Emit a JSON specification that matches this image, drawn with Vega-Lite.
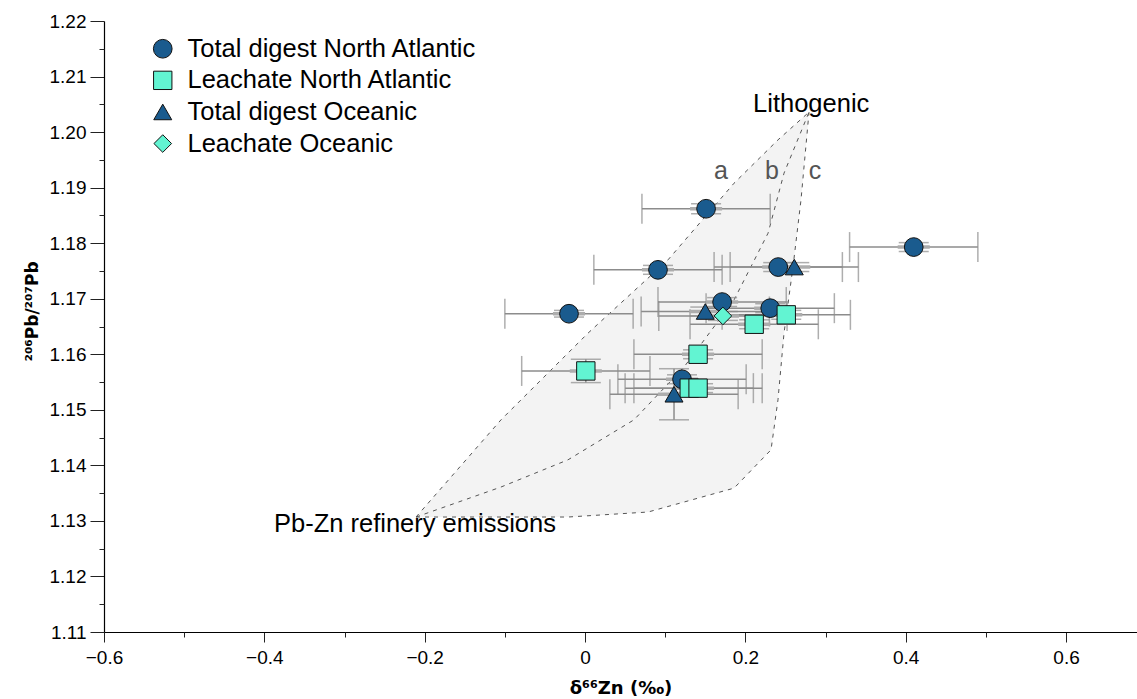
{
  "$schema": "https://vega.github.io/schema/vega-lite/v6.json",
  "width": 1033,
  "height": 611,
  "padding": {"left": 104, "top": 21, "right": 0, "bottom": 67},
  "autosize": {"type": "none"},
  "background": "white",
  "config": {
    "view": {"stroke": null},
    "font": "Liberation Sans",
    "axis": {"labelFont": "Liberation Sans", "titleFont": "DejaVu Sans", "domainColor": "#000", "tickColor": "#222", "grid": false, "labelColor": "#000", "titleColor": "#000"}
  },
  "resolve": {"axis": {"x": "independent", "y": "independent"}},
  "datasets": {
    "envelope": [
      {"xe": -0.2108, "ya": 1.1307, "yc": 1.1307},
      {"xe": -0.1048, "ya": 1.1482, "yc": 1.1307},
      {"xe": -0.0212, "ya": 1.1602, "yc": 1.1307},
      {"xe": 0.0037, "ya": 1.1638, "yc": 1.1309},
      {"xe": 0.0786, "ya": 1.1737, "yc": 1.1316},
      {"xe": 0.1035, "ya": 1.1770, "yc": 1.1326},
      {"xe": 0.1859, "ya": 1.1908, "yc": 1.1359},
      {"xe": 0.232, "ya": 1.1974, "yc": 1.1428},
      {"xe": 0.2407, "ya": 1.1986, "yc": 1.1518},
      {"xe": 0.2482, "ya": 1.1996, "yc": 1.1638},
      {"xe": 0.2594, "ya": 1.2010, "yc": 1.1757},
      {"xe": 0.2694, "ya": 1.2023, "yc": 1.1878},
      {"xe": 0.2794, "ya": 1.2036, "yc": 1.2036}
    ],
    "curves": [
      {"curve": "a", "x": -0.2108, "y": 1.1307},
      {"curve": "a", "x": -0.1048, "y": 1.1482},
      {"curve": "a", "x": 0.0037, "y": 1.1638},
      {"curve": "a", "x": 0.1035, "y": 1.1770},
      {"curve": "a", "x": 0.1859, "y": 1.1908},
      {"curve": "a", "x": 0.2407, "y": 1.1986},
      {"curve": "a", "x": 0.2794, "y": 1.2036},
      {"curve": "b", "x": -0.2108, "y": 1.1307},
      {"curve": "b", "x": -0.1048, "y": 1.1361},
      {"curve": "b", "x": -0.0212, "y": 1.1410},
      {"curve": "b", "x": 0.0611, "y": 1.1482},
      {"curve": "b", "x": 0.1235, "y": 1.1577},
      {"curve": "b", "x": 0.1859, "y": 1.1698},
      {"curve": "b", "x": 0.2283, "y": 1.1818},
      {"curve": "b", "x": 0.2482, "y": 1.1926},
      {"curve": "b", "x": 0.2794, "y": 1.2036},
      {"curve": "c", "x": -0.2108, "y": 1.1307},
      {"curve": "c", "x": -0.0212, "y": 1.1307},
      {"curve": "c", "x": 0.0786, "y": 1.1316},
      {"curve": "c", "x": 0.1859, "y": 1.1359},
      {"curve": "c", "x": 0.232, "y": 1.1428},
      {"curve": "c", "x": 0.2407, "y": 1.1518},
      {"curve": "c", "x": 0.2482, "y": 1.1638},
      {"curve": "c", "x": 0.2594, "y": 1.1757},
      {"curve": "c", "x": 0.2694, "y": 1.1878},
      {"curve": "c", "x": 0.2794, "y": 1.2036}
    ],
    "names": [
      {"label": "Lithogenic", "x": 0.2096, "y": 1.2036},
      {"label": "Pb-Zn refinery emissions", "x": -0.388, "y": 1.128}
    ],
    "letters": [
      {"label": "a", "x": 0.1696, "y": 1.1915},
      {"label": "b", "x": 0.2333, "y": 1.1915},
      {"label": "c", "x": 0.287, "y": 1.1915}
    ],
    "pts": [
      {"type": "Total digest North Atlantic", "x": 0.151, "y": 1.1862, "xlo": 0.071, "xhi": 0.231, "ylo": 1.1853, "yhi": 1.1871, "xilo": 0.131, "xihi": 0.171},
      {"type": "Total digest North Atlantic", "x": 0.091, "y": 1.1752, "xlo": 0.011, "xhi": 0.171, "ylo": 1.1744, "yhi": 1.1760, "xilo": 0.071, "xihi": 0.111},
      {"type": "Total digest North Atlantic", "x": -0.020, "y": 1.1673, "xlo": -0.100, "xhi": 0.060, "ylo": 1.1667, "yhi": 1.1679, "xilo": -0.040, "xihi": 0.000},
      {"type": "Total digest North Atlantic", "x": 0.241, "y": 1.1757, "xlo": 0.161, "xhi": 0.321, "ylo": 1.1749, "yhi": 1.1765, "xilo": 0.221, "xihi": 0.261},
      {"type": "Total digest North Atlantic", "x": 0.171, "y": 1.1694, "xlo": 0.091, "xhi": 0.251, "ylo": 1.1686, "yhi": 1.1702, "xilo": 0.151, "xihi": 0.191},
      {"type": "Total digest North Atlantic", "x": 0.231, "y": 1.1683, "xlo": 0.151, "xhi": 0.311, "ylo": 1.1675, "yhi": 1.1691, "xilo": 0.211, "xihi": 0.251},
      {"type": "Total digest North Atlantic", "x": 0.410, "y": 1.1793, "xlo": 0.330, "xhi": 0.490, "ylo": 1.1785, "yhi": 1.1801, "xilo": 0.390, "xihi": 0.430},
      {"type": "Total digest North Atlantic", "x": 0.121, "y": 1.1555, "xlo": 0.041, "xhi": 0.201, "ylo": 1.1547, "yhi": 1.1563, "xilo": 0.101, "xihi": 0.141},
      {"type": "Leachate North Atlantic", "x": 0.001, "y": 1.1570, "xlo": -0.079, "xhi": 0.081, "ylo": 1.1549, "yhi": 1.1591, "xilo": -0.019, "xihi": 0.021},
      {"type": "Leachate North Atlantic", "x": 0.141, "y": 1.1600, "xlo": 0.061, "xhi": 0.221, "ylo": 1.1592, "yhi": 1.1608, "xilo": 0.121, "xihi": 0.161},
      {"type": "Leachate North Atlantic", "x": 0.211, "y": 1.1654, "xlo": 0.131, "xhi": 0.291, "ylo": 1.1646, "yhi": 1.1662, "xilo": 0.191, "xihi": 0.231},
      {"type": "Leachate North Atlantic", "x": 0.251, "y": 1.1671, "xlo": 0.171, "xhi": 0.331, "ylo": 1.1663, "yhi": 1.1679, "xilo": 0.231, "xihi": 0.271},
      {"type": "Leachate North Atlantic", "x": 0.130, "y": 1.1539, "xlo": 0.050, "xhi": 0.210, "ylo": 1.1531, "yhi": 1.1547, "xilo": 0.110, "xihi": 0.150},
      {"type": "Leachate North Atlantic", "x": 0.141, "y": 1.1539, "xlo": 0.061, "xhi": 0.221, "ylo": 1.1531, "yhi": 1.1547, "xilo": 0.121, "xihi": 0.161},
      {"type": "Total digest Oceanic", "x": 0.261, "y": 1.1757, "xlo": 0.181, "xhi": 0.341, "ylo": 1.1749, "yhi": 1.1765, "xilo": 0.241, "xihi": 0.281},
      {"type": "Total digest Oceanic", "x": 0.150, "y": 1.1677, "xlo": 0.070, "xhi": 0.230, "ylo": 1.1669, "yhi": 1.1685, "xilo": 0.130, "xihi": 0.170},
      {"type": "Total digest Oceanic", "x": 0.111, "y": 1.1528, "xlo": 0.031, "xhi": 0.191, "ylo": 1.1482, "yhi": 1.1574, "xilo": 0.091, "xihi": 0.131},
      {"type": "Leachate Oceanic", "x": 0.172, "y": 1.1669, "xlo": 0.092, "xhi": 0.252, "ylo": 1.1661, "yhi": 1.1677, "xilo": 0.152, "xihi": 0.192}
    ]
  },
  "layer": [
    {
      "data": {"name": "envelope"},
      "mark": {"type": "area", "color": "#f3f3f3", "opacity": 1},
      "encoding": {
        "x": {"field": "xe", "type": "quantitative",
          "scale": {"domain": [-0.6, 0.6885], "nice": false, "zero": false},
          "axis": {
            "orient": "bottom",
            "title": "δ⁶⁶Zn (‰)", "titleFontSize": 18, "titleFontWeight": "bold", "titleBaseline": "middle", "titleY": 56,
            "values": [-0.6, -0.4, -0.2, 0, 0.2, 0.4, 0.6],
            "tickSize": 10,
            "labelExpr": "format(datum.value, '.1~f')",
            "labelFontSize": 19, "labelPadding": 6, "labelFlush": false, "labelOverlap": false, "domainWidth": 1.2, "tickWidth": 1
          }},
        "y": {"field": "ya", "type": "quantitative",
          "scale": {"domain": [1.11, 1.22], "nice": false, "zero": false},
          "axis": {
            "orient": "left",
            "title": "²⁰⁶Pb/²⁰⁷Pb", "titleFontSize": 17, "titleFontWeight": "bold", "titleAngle": 270, "titleAlign": "center", "titleBaseline": "middle", "titleX": -72, "titleY": 290,
            "values": [1.11, 1.12, 1.13, 1.14, 1.15, 1.16, 1.17, 1.18, 1.19, 1.2, 1.21, 1.22],
            "tickSize": 14,
            "format": ".2f",
            "labelFontSize": 19, "labelPadding": 4, "labelFlush": false, "labelOverlap": false, "domainWidth": 1.2, "tickWidth": 1
          }},
        "y2": {"field": "yc"}
      }
    },
    {
      "data": {"name": "curves"},
      "mark": {"type": "line", "color": "#555", "strokeWidth": 1, "strokeDash": [4, 5]},
      "encoding": {
        "x": {"field": "x", "type": "quantitative",
          "axis": {"orient": "bottom", "title": null, "labels": false, "domain": false, "tickSize": 5, "tickWidth": 1, "values": [-0.5, -0.3, -0.1, 0.1, 0.3, 0.5]}},
        "y": {"field": "y", "type": "quantitative",
          "axis": {"orient": "left", "title": null, "labels": false, "domain": false, "tickSize": 5, "tickWidth": 1, "values": [1.115, 1.125, 1.135, 1.145, 1.155, 1.165, 1.175, 1.185, 1.195, 1.205, 1.215]}},
        "detail": {"field": "curve"}
      }
    },
    {
      "data": {"name": "names"},
      "mark": {"type": "text", "align": "left", "baseline": "alphabetic", "fontSize": 25.5, "color": "#000", "font": "Liberation Sans"},
      "encoding": {
        "x": {"field": "x", "type": "quantitative", "axis": null},
        "y": {"field": "y", "type": "quantitative", "axis": null},
        "text": {"field": "label"}
      }
    },
    {
      "data": {"name": "letters"},
      "mark": {"type": "text", "align": "center", "baseline": "alphabetic", "fontSize": 25, "color": "#555", "font": "Liberation Sans"},
      "encoding": {
        "x": {"field": "x", "type": "quantitative", "axis": null},
        "y": {"field": "y", "type": "quantitative", "axis": null},
        "text": {"field": "label"}
      }
    },
    {
      "data": {"name": "pts"},
      "mark": {"type": "rule", "color": "#8c8c8c", "strokeWidth": 1.5},
      "encoding": {
        "x": {"field": "xlo", "type": "quantitative", "axis": null},
        "x2": {"field": "xhi"},
        "y": {"field": "y", "type": "quantitative", "axis": null}
      }
    },
    {
      "data": {"name": "pts"},
      "mark": {"type": "tick", "orient": "vertical", "size": 30, "thickness": 1.5, "color": "#8c8c8c"},
      "encoding": {
        "x": {"field": "xlo", "type": "quantitative", "axis": null},
        "y": {"field": "y", "type": "quantitative", "axis": null}
      }
    },
    {
      "data": {"name": "pts"},
      "mark": {"type": "tick", "orient": "vertical", "size": 30, "thickness": 1.5, "color": "#8c8c8c"},
      "encoding": {
        "x": {"field": "xhi", "type": "quantitative", "axis": null},
        "y": {"field": "y", "type": "quantitative", "axis": null}
      }
    },
    {
      "data": {"name": "pts"},
      "mark": {"type": "rule", "color": "#8c8c8c", "strokeWidth": 1.5},
      "encoding": {
        "x": {"field": "x", "type": "quantitative", "axis": null},
        "y": {"field": "ylo", "type": "quantitative", "axis": null},
        "y2": {"field": "yhi"}
      }
    },
    {
      "data": {"name": "pts"},
      "mark": {"type": "tick", "orient": "horizontal", "size": 30, "thickness": 1.5, "color": "#8c8c8c"},
      "encoding": {
        "x": {"field": "x", "type": "quantitative", "axis": null},
        "y": {"field": "ylo", "type": "quantitative", "axis": null}
      }
    },
    {
      "data": {"name": "pts"},
      "mark": {"type": "tick", "orient": "horizontal", "size": 30, "thickness": 1.5, "color": "#8c8c8c"},
      "encoding": {
        "x": {"field": "x", "type": "quantitative", "axis": null},
        "y": {"field": "yhi", "type": "quantitative", "axis": null}
      }
    },
    {
      "data": {"name": "pts"},
      "mark": {"type": "rule", "color": "#adadad", "strokeWidth": 3.5},
      "encoding": {
        "x": {"field": "xilo", "type": "quantitative", "axis": null},
        "x2": {"field": "xihi"},
        "y": {"field": "y", "type": "quantitative", "axis": null}
      }
    },
    {
      "data": {"name": "pts"},
      "mark": {"type": "point", "filled": true, "opacity": 1, "stroke": "#111", "strokeWidth": 1},
      "encoding": {
        "x": {"field": "x", "type": "quantitative", "axis": null},
        "y": {"field": "y", "type": "quantitative", "axis": null},
        "color": {"field": "type", "type": "nominal",
          "scale": {"domain": ["Total digest North Atlantic", "Leachate North Atlantic", "Total digest Oceanic", "Leachate Oceanic"], "range": ["#1a5b8e", "#62f4d2", "#1a5b8e", "#62f4d2"]},
          "legend": {"title": null, "orient": "none", "legendX": 46, "legendY": 15, "padding": 0, "rowPadding": 4.6, "labelFontSize": 25.5, "labelFont": "Liberation Sans", "labelColor": "#000", "labelOffset": 12, "symbolStrokeColor": "#111", "symbolStrokeWidth": 1, "symbolOpacity": 1, "labelLimit": 0}},
        "shape": {"field": "type", "type": "nominal",
          "scale": {"domain": ["Total digest North Atlantic", "Leachate North Atlantic", "Total digest Oceanic", "Leachate Oceanic"], "range": ["circle", "square", "triangle-up", "diamond"]}},
        "size": {"field": "type", "type": "nominal",
          "scale": {"domain": ["Total digest North Atlantic", "Leachate North Atlantic", "Total digest Oceanic", "Leachate Oceanic"], "range": [350, 310, 430, 500]}}
      }
    }
  ]
}
